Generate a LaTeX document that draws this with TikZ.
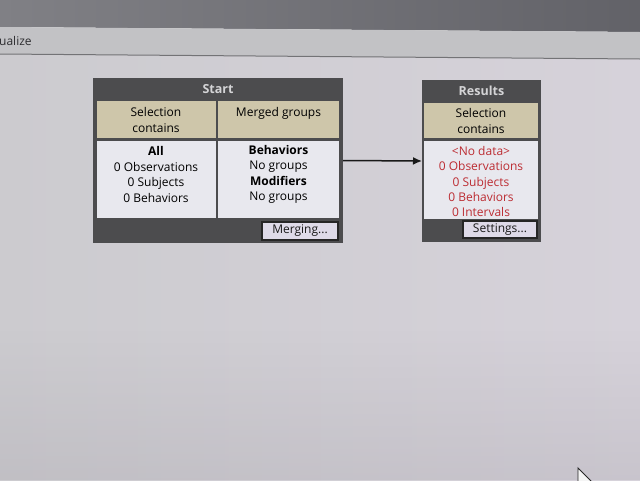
\documentclass[tikz,border=0pt]{standalone}
\usepackage{fontspec}
\setmainfont{Open Sans}
\usetikzlibrary{arrows.meta,fadings}
\definecolor{bezelA}{RGB}{98,98,104}
\definecolor{bezelB}{RGB}{128,128,133}
\definecolor{toolbar}{RGB}{194,194,197}
\definecolor{tbline}{RGB}{115,115,118}
\definecolor{mainA}{RGB}{204,203,207}
\definecolor{mainB}{RGB}{214,210,218}
\definecolor{mainC}{RGB}{160,156,165}
\definecolor{paneldark}{RGB}{76,76,78}
\definecolor{hdrtext}{RGB}{212,212,214}
\definecolor{beige}{RGB}{206,198,170}
\definecolor{cellw}{RGB}{232,232,238}
\definecolor{btnfill}{RGB}{222,218,232}
\definecolor{redtext}{RGB}{188,44,50}
\definecolor{darktext}{RGB}{45,45,48}
\begin{document}
\begin{tikzpicture}[x=1pt,y=-1pt,
  boxframe/.style={fill=paneldark,inner sep=0,outer sep=0},
  beigecell/.style={fill=beige,inner sep=0,outer sep=0},
  whitecell/.style={fill=cellw,inner sep=0,outer sep=0},
  hdrlbl/.style={font=\fontsize{12.5}{14}\selectfont\bfseries,text=hdrtext,inner sep=0},
  lbl/.style={font=\fontsize{12}{15.5}\selectfont,text=black,inner sep=0,align=center},
  redlbl/.style={font=\fontsize{12}{15.25}\selectfont,text=redtext,inner sep=0,align=center},
  btn/.style={fill=btnfill,draw=black!85,line width=1.2pt,inner sep=0,font=\fontsize{12}{14}\selectfont,text=black!90}]
\useasboundingbox (0,0) rectangle (640,480);
\clip (0,0) rectangle (640,480);
% background
\shade[left color=mainA,right color=mainB] (0,54) rectangle (640,480);
\fill[mainC,opacity=0.25,path fading=north] (0,330) rectangle (640,480);
\shade[left color=bezelB,right color=bezelA] (0,0) -- (640,0) -- (640,32) -- (0,27) -- cycle;
\fill[toolbar] (0,27) -- (640,32) -- (640,59) -- (0,54) -- cycle;
\draw[tbline,line width=1pt] (0,54) -- (640,59);
\node[anchor=west,inner sep=0,font=\fontsize{12}{14}\selectfont,text=darktext] (tabtitle) at (-1,41) {ualize};
% Start box
\node[boxframe,minimum width=250,minimum height=165] (startbox) at (218,160.5) {};
\node[hdrlbl] (starthdr) at (218,89) {Start};
\node[beigecell,minimum width=118.5,minimum height=37] (sbeigeL) at (156.25,119.5) {};
\node[beigecell,minimum width=121,minimum height=37] (sbeigeR) at (278.5,119.5) {};
\node[whitecell,minimum width=118.5,minimum height=77] (swhiteL) at (156.25,179.5) {};
\node[whitecell,minimum width=121,minimum height=77] (swhiteR) at (278.5,179.5) {};
\node[lbl] (sselect) at (156,120) {Selection\\contains};
\node[lbl,anchor=north] (smerged) at (278.5,107) {Merged groups};
\node[lbl] (sall) at (156,174.5) {\textbf{All}\\0 Observations\\0 Subjects\\0 Behaviors};
\node[lbl] (sgroups) at (278.5,174.5) {\textbf{Behaviors}\\No groups\\\textbf{Modifiers}\\No groups};
\node[btn,minimum width=76,minimum height=18] (mergebtn) at (300,231) {Merging...};
% Results box
\node[boxframe,minimum width=119,minimum height=162] (resbox) at (481.5,161) {};
\node[hdrlbl] (reshdr) at (481.5,91) {Results};
\node[beigecell,minimum width=114,minimum height=35] (rbeige) at (481,120.5) {};
\node[whitecell,minimum width=114,minimum height=78] (rwhite) at (481,180) {};
\node[lbl] (rselect) at (481,121) {Selection\\contains};
\node[redlbl] (rdata) at (481,181.5) {<No data>\\0 Observations\\0 Subjects\\0 Behaviors\\0 Intervals};
\node[btn,minimum width=74,minimum height=17] (setbtn) at (500,229.5) {Settings...};
% connector
\draw[line width=1.5pt,black!90,-{Latex[length=9pt,width=8pt]}] (startbox.east) -- (resbox.west);
% mouse cursor
\coordinate (cursortip) at (578,468);
\draw[black!85,fill=white!92!gray,line width=0.9pt] (cursortip) -- ++(0,25) -- ++(25,0) -- cycle;
\end{tikzpicture}
\end{document}
